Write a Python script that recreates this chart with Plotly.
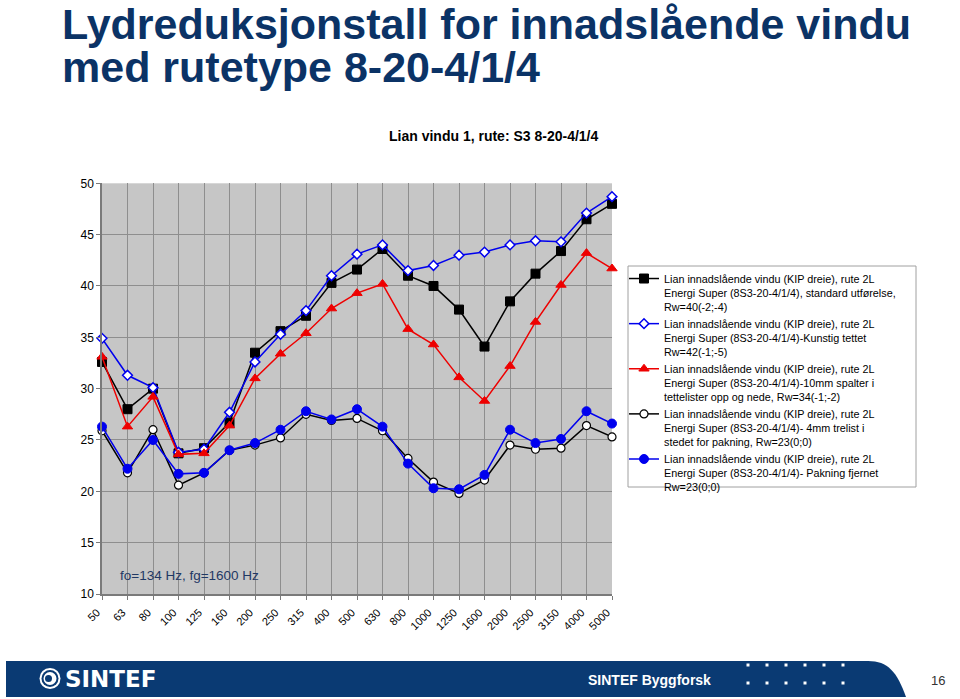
import plotly.graph_objects as go

freqs = ["50", "63", "80", "100", "125", "160", "200", "250", "315", "400", "500",
         "630", "800", "1000", "1250", "1600", "2000", "2500", "3150", "4000", "5000"]

s_standard = [32.6, 28.0, 30.0, 23.7, 24.2, 26.7, 33.5, 35.6, 37.1, 40.3, 41.6,
              43.6, 41.0, 40.0, 37.7, 34.1, 38.5, 41.2, 43.4, 46.5, 48.0]
s_kunstig = [34.9, 31.3, 30.1, 23.8, 24.1, 27.7, 32.6, 35.3, 37.6, 41.0, 43.1,
             44.0, 41.5, 42.0, 43.0, 43.3, 44.0, 44.4, 44.3, 47.1, 48.7]
s_spalter = [33.1, 26.3, 29.2, 23.6, 23.7, 26.4, 31.0, 33.4, 35.4, 37.8, 39.3,
             40.2, 35.8, 34.3, 31.1, 28.8, 32.2, 36.5, 40.1, 43.2, 41.7]
s_trelist = [25.9, 21.8, 26.0, 20.6, 21.8, 24.0, 24.5, 25.2, 27.5, 26.9, 27.1,
             25.9, 23.2, 20.9, 19.8, 21.1, 24.5, 24.1, 24.2, 26.4, 25.3]
s_pakning = [26.3, 22.2, 25.0, 21.7, 21.8, 24.0, 24.7, 26.0, 27.8, 27.0, 28.0,
             26.3, 22.7, 20.3, 20.2, 21.6, 26.0, 24.7, 25.1, 27.8, 26.6]

names = [
    "Lian innadslående vindu (KIP dreie), rute 2L<br>Energi Super (8S3-20-4/1/4), standard utførelse,<br>Rw=40(-2;-4)",
    "Lian innadslående vindu (KIP dreie), rute 2L<br>Energi Super (8S3-20-4/1/4)-Kunstig tettet<br>Rw=42(-1;-5)",
    "Lian innadslående vindu (KIP dreie), rute 2L<br>Energi Super (8S3-20-4/1/4)-10mm spalter i<br>tettelister opp og nede, Rw=34(-1;-2)",
    "Lian innadslående vindu (KIP dreie), rute 2L<br>Energi Super (8S3-20-4/1/4)- 4mm trelist i<br>stedet for pakning, Rw=23(0;0)",
    "Lian innadslående vindu (KIP dreie), rute 2L<br>Energi Super (8S3-20-4/1/4)- Pakning fjernet<br>Rw=23(0;0)",
]

W, H = 960, 699
FONT = "Arial, Liberation Sans, sans-serif"
NAVY = "#0b3366"
BAND = "#0a3a73"


def px(x):
    return x / W


def py(y):
    return 1 - y / H


series = [
    (s_standard, "#000000", dict(symbol="square", size=9, color="#000000",
                                 line=dict(color="#000000", width=1))),
    (s_kunstig, "#0000ee", dict(symbol="diamond", size=7.5, color="#ffffff",
                                line=dict(color="#0000ee", width=1.5))),
    (s_spalter, "#ee0000", dict(symbol="triangle-up", size=9, color="#ee0000",
                                line=dict(color="#ee0000", width=1))),
    (s_trelist, "#000000", dict(symbol="circle", size=8, color="#ffffff",
                                line=dict(color="#000000", width=1.2))),
    (s_pakning, "#0000ee", dict(symbol="circle", size=9, color="#0000ee",
                                line=dict(color="#0000ee", width=1))),
]

fig = go.Figure()
for (vals, col, mk), nm in zip(series, names):
    fig.add_trace(go.Scatter(x=freqs, y=vals, mode="lines+markers", name=nm,
                             line=dict(color=col, width=1.5), marker=mk,
                             cliponaxis=False))

shapes = []
# legend border
shapes.append(dict(type="rect", xref="paper", yref="paper",
                   x0=px(628), x1=px(916), y0=py(487), y1=py(266),
                   line=dict(color="#a0a0a0", width=1), fillcolor="rgba(0,0,0,0)"))
# footer band
path = "M {},{} L {},{} C {},{} {},{} {},{} L {},{} Z".format(
    px(6), py(661), px(868), py(661), px(888), py(661), px(897), py(672),
    px(906), py(697), px(6), py(697))
shapes.append(dict(type="path", xref="paper", yref="paper", path=path,
                   fillcolor=BAND, line=dict(width=0), layer="below"))
# footer dots
for cx in [748, 767, 786, 805, 824, 843]:
    for cy in [665, 683]:
        shapes.append(dict(type="rect", xref="paper", yref="paper",
                           x0=px(cx - 1.5), x1=px(cx + 1.5), y0=py(cy + 1.5), y1=py(cy - 1.5),
                           fillcolor="#ffffff", line=dict(width=0)))
# logo
for r, c in [(10.5, "#ffffff"), (8.5, BAND), (6.5, "#ffffff")]:
    shapes.append(dict(type="circle", xref="paper", yref="paper",
                       x0=px(50 - r), x1=px(50 + r), y0=py(678.5 + r), y1=py(678.5 - r),
                       fillcolor=c, line=dict(width=0)))
shapes.append(dict(type="circle", xref="paper", yref="paper",
                   x0=px(45), x1=px(52), y0=py(682), y1=py(675),
                   fillcolor=BAND, line=dict(width=0)))

annotations = [
    dict(text="Lydreduksjonstall for innadslående vindu", x=px(60), y=py(24),
         font=dict(family=FONT, size=43, color=NAVY, weight="bold")),
    dict(text="med rutetype 8-20-4/1/4", x=px(60), y=py(67),
         font=dict(family=FONT, size=43, color=NAVY, weight="bold")),
    dict(text="<b>Lian vindu 1, rute: S3 8-20-4/1/4</b>", x=px(494), y=py(136),
         xanchor="center", font=dict(family=FONT, size=14, color="#000000")),
    dict(text="fo=134 Hz, fg=1600 Hz", x=px(118), y=py(575),
         font=dict(family=FONT, size=13.5, color="#1f3864")),
    dict(text="<b>SINTEF</b>", x=px(63), y=py(679),
         font=dict(family="DejaVu Sans, sans-serif", size=23, color="#ffffff")),
    dict(text="<b>SINTEF Byggforsk</b>", x=px(586), y=py(680),
         font=dict(family=FONT, size=14, color="#ffffff")),
    dict(text="16", x=px(929), y=py(680),
         font=dict(family=FONT, size=13, color="#333333")),
]
for a in annotations:
    a.setdefault("xanchor", "left")
    a.update(xref="paper", yref="paper", yanchor="middle", showarrow=False)

fig.update_layout(
    width=W, height=H,
    margin=dict(l=0, r=0, t=0, b=0, pad=0, autoexpand=False),
    paper_bgcolor="#ffffff",
    plot_bgcolor="#c6c6c6",
    font=dict(family=FONT, size=11, color="#000000"),
    showlegend=True,
    legend=dict(x=px(624), y=py(265), xanchor="left", yanchor="top",
                bgcolor="rgba(255,255,255,0)", borderwidth=0,
                font=dict(family=FONT, size=10.8, color="#000000"),
                valign="top", tracegroupgap=0),
    shapes=shapes,
    annotations=annotations,
    xaxis=dict(domain=[px(102), px(612)], type="category", range=[0, 20],
               showgrid=True, gridcolor="#8e8e8e", gridwidth=1,
               showline=True, linecolor="#7a7a7a", linewidth=1.5,
               ticks="outside", ticklen=4, tickcolor="#7a7a7a",
               tickangle=-45, ticklabelshift=-5, ticklabelstandoff=2,
               tickfont=dict(family=FONT, size=11, color="#000000"),
               zeroline=False, fixedrange=True),
    yaxis=dict(domain=[py(594), py(183.3)], range=[10, 50], dtick=5, tick0=10,
               showgrid=True, gridcolor="#8e8e8e", gridwidth=1,
               showline=True, linecolor="#7a7a7a", linewidth=1.5,
               ticks="outside", ticklen=4, tickcolor="#7a7a7a",
               tickfont=dict(family=FONT, size=12, color="#000000"),
               zeroline=False, fixedrange=True),
)

fig.write_html("out.html", config={"displayModeBar": False},
               post_script="document.body.style.margin='0';")
